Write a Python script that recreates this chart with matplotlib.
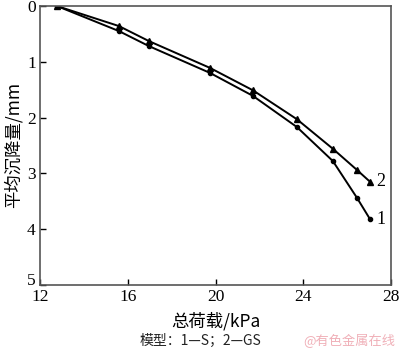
import matplotlib
matplotlib.use("Agg")
from matplotlib import pyplot as plt

# ---------------------------------------
# Data
# ---------------------------------------

load_s = [12.77, 15.6, 16.97, 19.75, 21.7, 23.71, 25.35, 26.45, 27.04]
settle_s = [0.0, 0.45, 0.72, 1.20, 1.61, 2.17, 2.78, 3.44, 3.82]

load_gs = [12.77, 15.6, 16.97, 19.75, 21.7, 23.71, 25.35, 26.45, 27.04]
settle_gs = [0.0, 0.36, 0.63, 1.11, 1.51, 2.03, 2.56, 2.94, 3.15]

x_ticks = [12, 16, 20, 24, 28]
y_ticks = [0, 1, 2, 3, 4, 5]

cjk = ["Noto Sans CJK SC", "DejaVu Sans"]
num_font = "Liberation Serif"

# ---------------------------------------
# Plot
# ---------------------------------------

fig = plt.figure(figsize=(4.0, 3.53), dpi=100)
ax = fig.add_axes([0.1, 0.193, 0.8775, 0.79])

ax.plot(load_s, settle_s, color="black", lw=1.4, marker="o", ms=3)
ax.plot(load_gs, settle_gs, color="black", lw=1.4, marker="^", ms=5)

ax.text(load_gs[-1] + 0.3, settle_gs[-1], "2", fontsize=13, family=num_font, va="center")
ax.text(load_s[-1] + 0.3, settle_s[-1], "1", fontsize=13, family=num_font, va="center")

ax.set_xlim(12, 28)
ax.set_ylim(5, 0)
ax.set_xticks(x_ticks)
ax.set_yticks(y_ticks)
ax.set_xticklabels([str(t) for t in x_ticks], family=num_font, fontsize=12.5)
ax.set_yticklabels([str(t) for t in y_ticks], family=num_font, fontsize=12.5)
ax.tick_params(direction="in", length=4, width=1)
ax.tick_params(axis="x", pad=3)
ax.tick_params(axis="y", pad=3)
# keep the "5" sitting on the bottom corner, clear of the "12"
ax.get_yticklabels()[-1].set_va("baseline")

for side in ax.spines.values():
    side.set_color("#555555")
    side.set_linewidth(1.2)

ax.set_xlabel("总荷载/kPa", family=cjk, fontsize=12.5, labelpad=5)
ax.set_ylabel("平均沉降量/mm", family=cjk, fontsize=12.5, labelpad=3)

fig.text(0.5, 0.035, "模型：1—S；2—GS", family=cjk, fontsize=10, ha="center", va="center", color="#222222")
fig.text(0.988, 0.035, "@有色金属在线", family=cjk, fontsize=9.5, ha="right", va="center", color="#f0b0b8")

fig.savefig("out.png", dpi=100)
